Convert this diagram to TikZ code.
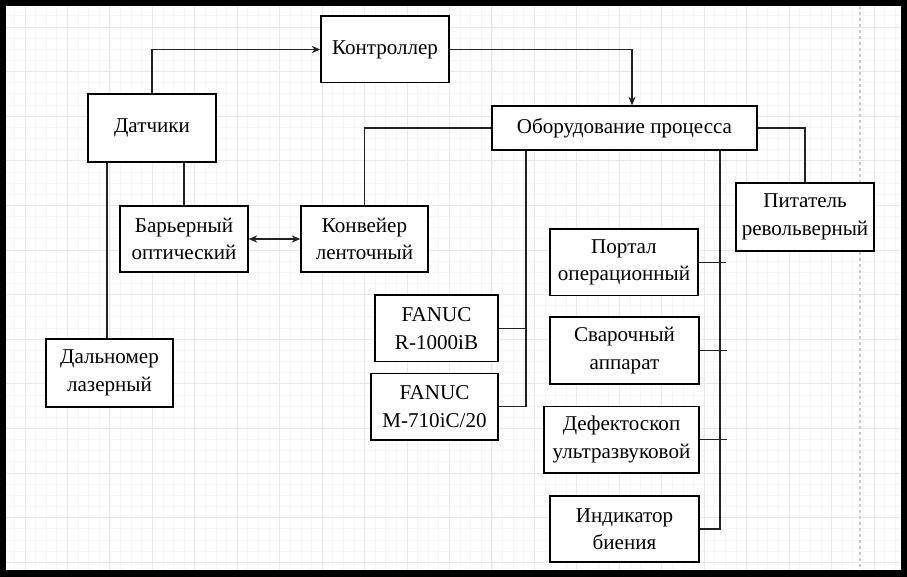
\documentclass[tikz,border=0pt]{standalone}
\usepackage{fontspec}
\setmainfont{Liberation Serif}
\usetikzlibrary{arrows.meta}
\definecolor{gridminor}{HTML}{F6F6F6}
\definecolor{gridmajor}{HTML}{E9E9E9}
\definecolor{lineclr}{HTML}{222222}
\begin{document}
\begin{tikzpicture}[x=0.75pt,y=-0.75pt,
  blk/.style={draw=black, line width=1pt, fill=white, align=center, inner sep=2pt,
    font=\fontsize{15.8pt}{20.5pt}\selectfont},
  conn/.style={draw=lineclr, line width=0.9pt},
  arr/.style={conn, -{Stealth[length=6.5pt,width=5.5pt]}},
  darr/.style={conn, {Stealth[length=6.5pt,width=5.5pt]}-{Stealth[length=6.5pt,width=5.5pt]}}]
\useasboundingbox (0,0) rectangle (907,577);
% frame
\fill[black] (0,0) rectangle (907,577);
\fill[white] (6,6) rectangle (901,570);
% grid
\begin{scope}
\clip (6,6) rectangle (901,570);
\foreach \k in {-2,...,84} {\draw[gridminor, line width=0.6pt] ({25+10.6125*\k},6) -- ({25+10.6125*\k},570);}
\foreach \k in {-2,...,50} {\draw[gridminor, line width=0.6pt] (6,{27+11.15*\k}) -- (901,{27+11.15*\k});}
\foreach \k in {0,...,21} {\draw[gridmajor, line width=0.7pt] ({25+42.45*\k},6) -- ({25+42.45*\k},570);}
\foreach \k in {-1,...,12} {\draw[gridmajor, line width=0.7pt] (6,{27+44.6*\k}) -- (901,{27+44.6*\k});}
\draw[gray!40, line width=0.8pt, dash pattern=on 2.5pt off 2pt] (860,6) -- (860,570);
\end{scope}
% nodes
\node[blk, minimum width=96pt, minimum height=51pt] (dat) at (152,128) {Датчики};
\node[blk, minimum width=96pt, minimum height=50pt] (ctrl) at (385,49.5) {Контроллер};
\node[blk, minimum width=198.75pt, minimum height=33pt] (equip) at (624.5,128) {Оборудование процесса};
\node[blk, minimum width=103.5pt, minimum height=51pt] (pit) at (805,217) {Питатель\\револьверный};
\node[blk, minimum width=96pt, minimum height=49.5pt] (bar) at (184,239) {Барьерный\\оптический};
\node[blk, minimum width=95.25pt, minimum height=49.5pt] (konv) at (364.5,239) {Конвейер\\ленточный};
\node[blk, minimum width=95.25pt, minimum height=51pt] (dal) at (109.5,373) {Дальномер\\лазерный};
\node[blk, minimum width=92.25pt, minimum height=50pt] (fr) at (436.5,328.5) {FANUC\\R-1000iB};
\node[blk, minimum width=95.25pt, minimum height=50pt] (fm) at (434.5,406.5) {FANUC\\M-710iC/20};
\node[blk, minimum width=111pt, minimum height=50pt] (port) at (624,262.5) {Портал\\операционный};
\node[blk, minimum width=111.75pt, minimum height=50pt] (svar) at (624.5,350.5) {Сварочный\\аппарат};
\node[blk, minimum width=116.25pt, minimum height=50pt] (def) at (621.5,439.5) {Дефектоскоп\\ультразвуковой};
\node[blk, minimum width=111.75pt, minimum height=49.5pt] (ind) at (624.5,529) {Индикатор\\биения};
% connectors
\draw[arr] (dat.north) |- (ctrl.west);
\draw[arr] (ctrl.east) -| (632,0 |- equip.north);
\draw[conn] (equip.west) -| (konv.north);
\draw[conn] (equip.east) -| (pit.north);
\draw[conn] (526,0 |- equip.south) |- (fm.east);
\draw[conn] (fr.east) -- (526,0 |- fr.east);
\draw[conn] (720,0 |- equip.south) |- (ind.east);
\draw[conn] (port.east) -- (726,0 |- port.east);
\draw[conn] (svar.east) -- (727,0 |- svar.east);
\draw[conn] (def.east) -- (727,0 |- def.east);
\draw[conn] (107,0 |- dat.south) -- (107,0 |- dal.north);
\draw[conn] (184,0 |- dat.south) -- (bar.north);
\draw[darr] (bar.east) -- (konv.west);
\end{tikzpicture}
\end{document}
